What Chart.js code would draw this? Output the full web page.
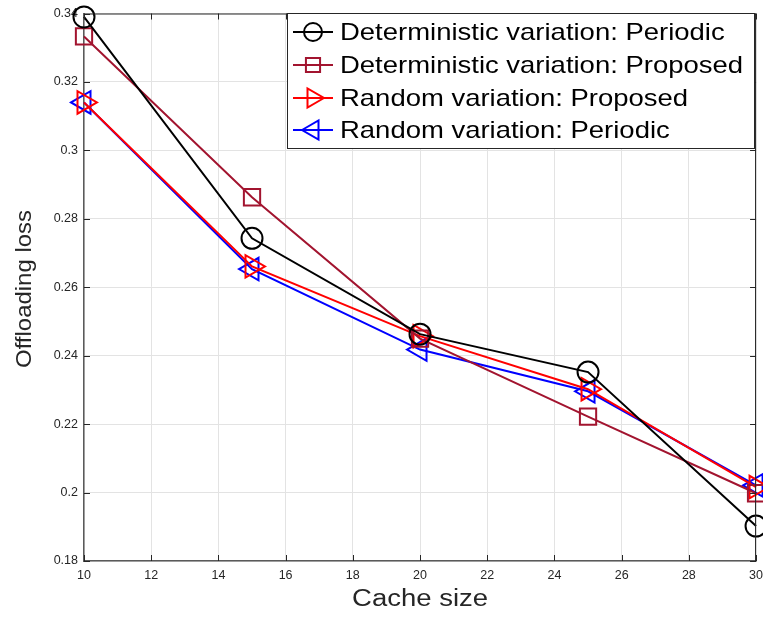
<!DOCTYPE html>
<html>
<head>
<meta charset="utf-8">
<script src="https://cdn.jsdelivr.net/npm/chart.js@4"></script>
<style>
  html, body { margin: 0; padding: 0; background: #fff; overflow: hidden; }
  /* a little wider than the window: the x scale keeps ~14px to the right of the plot */
  #wrap { position: relative; width: 770px; height: 619px; }
  canvas { display: block; }
</style>
</head>
<body>
<div id="wrap"><canvas id="lossChart"></canvas></div>
<script>
// cache sizes on the x axis
const cacheSizes = [10, 15, 20, 25, 30];

// offloading loss for each scheme
const detPeriodic = [0.3390, 0.2743, 0.2463, 0.2352, 0.1902];
const detProposed = [0.3333, 0.2863, 0.2450, 0.2222, 0.1998];
const randProposed = [0.3140, 0.2661, 0.2457, 0.2302, 0.2016];
const randPeriodic = [0.3140, 0.2653, 0.2418, 0.2296, 0.2021];

const seriesNames = [
    'Deterministic variation: Periodic',
    'Deterministic variation: Proposed',
    'Random variation: Proposed',
    'Random variation: Periodic'
];

const xTicks = [10, 12, 14, 16, 18, 20, 22, 24, 26, 28, 30];
const yTicks = [0.18, 0.2, 0.22, 0.24, 0.26, 0.28, 0.3, 0.32, 0.34];

const xTitle = 'Cache size';
const yTitle = 'Offloading loss';

const FONT = '"Liberation Sans", Arial, Helvetica, sans-serif';

function toPoints(values) {
    return cacheSizes.map((x, i) => ({ x: x, y: values[i] }));
}

const styles = [
    { color: '#000000', pointStyle: 'circle', radius: 10.5, rotation: 0 },
    { color: '#A2142F', pointStyle: 'rect', radius: 11.5, rotation: 0 },
    { color: '#FF0000', pointStyle: 'triangle', radius: 13, rotation: 90 },
    { color: '#0000FF', pointStyle: 'triangle', radius: 13, rotation: -90 }
];

const datasets = [detPeriodic, detProposed, randProposed, randPeriodic].map((vals, i) => ({
    label: seriesNames[i],
    data: toPoints(vals),
    borderColor: styles[i].color,
    backgroundColor: 'rgba(0,0,0,0)',
    borderWidth: 2,
    pointStyle: styles[i].pointStyle,
    pointRadius: styles[i].radius,
    pointRotation: styles[i].rotation,
    pointBorderWidth: 2,
    pointBorderColor: styles[i].color,
    pointBackgroundColor: 'rgba(0,0,0,0)',
    tension: 0,
    fill: false,
    clip: false
}));

// text stretched horizontally to a target width (the figure was exported wide)
function stretchText(ctx, text, x, y, targetW) {
    const w = ctx.measureText(text).width;
    const sx = targetW / w;
    ctx.save();
    ctx.translate(x, y);
    ctx.scale(sx, 1);
    ctx.fillText(text, 0, 0);
    ctx.restore();
}

// MATLAB-like box, inward ticks, titles and in-axes legend
const boxPlugin = {
    id: 'boxPlugin',
    afterDatasetsDraw(chart) {
        const ctx = chart.ctx;
        const a = chart.chartArea;
        const xs = chart.scales.x, ys = chart.scales.y;
        ctx.save();
        // inward tick marks
        ctx.strokeStyle = '#262626';
        ctx.lineWidth = 1;
        ctx.beginPath();
        xTicks.forEach(t => {
            const px = Math.round(xs.getPixelForValue(t)) + 0.5;
            ctx.moveTo(px, a.bottom); ctx.lineTo(px, a.bottom - 6);
            ctx.moveTo(px, a.top); ctx.lineTo(px, a.top + 6);
        });
        yTicks.forEach(t => {
            const py = Math.round(ys.getPixelForValue(t)) + 0.5;
            ctx.moveTo(a.left, py); ctx.lineTo(a.left + 6, py);
            ctx.moveTo(a.right, py); ctx.lineTo(a.right - 6, py);
        });
        ctx.stroke();
        // top and right edges
        ctx.beginPath();
        ctx.moveTo(a.left, a.top + 0.5); ctx.lineTo(a.right, a.top + 0.5);
        ctx.moveTo(a.right - 0.5, a.top); ctx.lineTo(a.right - 0.5, a.bottom);
        ctx.stroke();

        // axis titles
        ctx.fillStyle = '#262626';
        ctx.textBaseline = 'middle';
        ctx.textAlign = 'left';
        ctx.font = '23px ' + FONT;
        const xtw = 136;
        stretchText(ctx, xTitle, (a.left + a.right) / 2 - xtw / 2, 600, xtw);
        ctx.save();
        ctx.translate(25, 289);
        ctx.rotate(-Math.PI / 2);
        ctx.font = '22px ' + FONT;
        const ytw = 158;
        stretchText(ctx, yTitle, -ytw / 2, 0, ytw);
        ctx.restore();

        // legend, anchored to the top right corner of the plot
        const lw = 467, lh = 135;
        const lx = Math.round(a.right) - 2 - lw + 0.5, ly = 13.5;
        ctx.fillStyle = '#ffffff';
        ctx.fillRect(lx, ly, lw, lh);
        ctx.strokeStyle = '#262626';
        ctx.lineWidth = 1;
        ctx.strokeRect(lx, ly, lw, lh);
        const rows = [32, 65, 98, 130];
        ctx.font = '24px ' + FONT;
        const sx = 403 / ctx.measureText(seriesNames[1]).width;
        datasets.forEach((ds, i) => {
            const y = rows[i];
            ctx.strokeStyle = ds.borderColor;
            ctx.fillStyle = 'rgba(0,0,0,0)';
            ctx.lineWidth = 2;
            ctx.beginPath();
            ctx.moveTo(lx + 5.5, y); ctx.lineTo(lx + 45.5, y);
            ctx.stroke();
            Chart.helpers.drawPoint(ctx, {
                pointStyle: ds.pointStyle,
                rotation: ds.pointRotation,
                radius: ds.pointStyle === 'triangle' ? 11 : ds.pointRadius - 1.5,
                borderWidth: 2
            }, lx + 25.5, y);
            ctx.fillStyle = '#000000';
            ctx.save();
            ctx.translate(lx + 52.5, y + 1);
            ctx.scale(sx, 1);
            ctx.fillText(ds.label, 0, 0);
            ctx.restore();
        });
        ctx.restore();
    }
};

new Chart(document.getElementById('lossChart').getContext('2d'), {
    type: 'line',
    data: { datasets: datasets },
    options: {
        responsive: true,
        maintainAspectRatio: false,
        animation: false,
        layout: { autoPadding: false, padding: { top: 13, right: 0, left: 0, bottom: 0 } },
        plugins: {
            legend: { display: false },
            tooltip: { enabled: false }
        },
        scales: {
            x: {
                type: 'linear',
                min: 10,
                max: 30,
                afterBuildTicks: s => { s.ticks = xTicks.map(v => ({ value: v })); },
                afterFit: s => { s.height = 58; },
                grid: { color: '#e3e3e3', drawTicks: false },
                border: { color: '#5a5a5a', width: 1.5 },
                ticks: {
                    color: '#262626',
                    padding: 7,
                    maxRotation: 0,
                    font: { family: FONT, size: 12.5 },
                    callback: v => String(v)
                }
            },
            y: {
                type: 'linear',
                min: 0.18,
                max: 0.34,
                afterBuildTicks: s => { s.ticks = yTicks.map(v => ({ value: v })); },
                afterFit: s => { s.width = 84; },
                grid: { color: '#e3e3e3', drawTicks: false },
                border: { color: '#5a5a5a', width: 1.5 },
                ticks: {
                    color: '#262626',
                    padding: 6,
                    font: { family: FONT, size: 12.5 },
                    callback: v => String(parseFloat(v.toFixed(2)))
                }
            }
        }
    },
    plugins: [boxPlugin]
});
</script>
</body>
</html>
